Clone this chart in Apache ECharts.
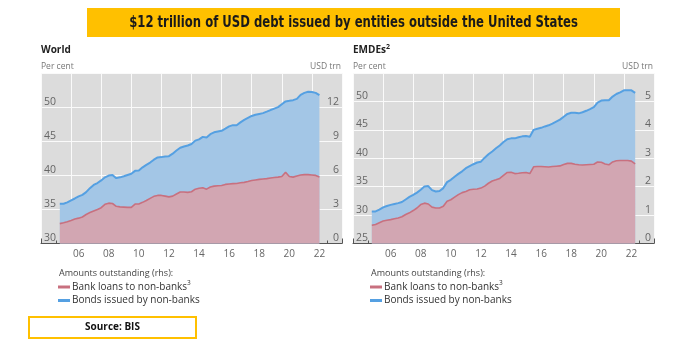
<!DOCTYPE html>
<html><head><meta charset="utf-8">
<script src="https://cdn.jsdelivr.net/npm/echarts@6/dist/echarts.min.js"></script>
<style>html,body{margin:0;padding:0;background:#fff}#c{width:684px;height:349px}</style>
</head><body><div id="c"></div>
<script>
// ---- Data (USD trn, quarterly) ----
const worldQuarterRange = ['2005Q1', '2022Q2'];
const emdeQuarterRange = ['2005Q1', '2022Q3'];

const worldLoans = [1.75,1.83,1.92,2.03, 2.15,2.23,2.33,2.55, 2.72,2.86,3.00,3.15, 3.45,3.55,3.52,3.27,
  3.22,3.20,3.18,3.18, 3.47,3.48,3.62,3.78, 3.97,4.15,4.23,4.23, 4.17,4.10,4.17,4.35,
  4.53,4.53,4.50,4.55, 4.78,4.86,4.90,4.78, 4.97,5.05,5.08,5.10, 5.20,5.24,5.27,5.28,
  5.34,5.38,5.45,5.54, 5.59,5.64,5.68,5.71, 5.76,5.80,5.84,5.90, 6.27,5.90,5.84,5.93,
  6.02,6.06,6.06,6.03, 5.99,5.85];
const worldTotal = [3.50,3.50,3.62,3.80, 3.96,4.14,4.28,4.52, 4.87,5.15,5.32,5.55, 5.82,5.98,6.03,5.75,
  5.82,5.92,6.03,6.13, 6.39,6.42,6.70,6.92, 7.12,7.37,7.57,7.60, 7.66,7.68,7.90,8.18,
  8.42,8.53,8.62,8.75, 9.05,9.16,9.38,9.33, 9.62,9.78,9.85,9.91, 10.10,10.30,10.41,10.41,
  10.66,10.87,11.05,11.22, 11.33,11.40,11.47,11.60, 11.74,11.87,12.00,12.25, 12.50,12.55,12.61,12.72,
  13.08,13.25,13.35,13.33, 13.25,13.05];

const emdeLoans = [0.64,0.67,0.73,0.79, 0.82,0.84,0.87,0.90, 0.94,1.02,1.08,1.16, 1.25,1.37,1.42,1.39,
  1.28,1.25,1.25,1.31, 1.49,1.54,1.63,1.72, 1.79,1.83,1.89,1.91, 1.92,1.95,2.02,2.12,
  2.20,2.24,2.29,2.40, 2.50,2.51,2.46,2.47, 2.49,2.50,2.46,2.70, 2.71,2.71,2.70,2.69,
  2.71,2.72,2.73,2.78, 2.82,2.82,2.79,2.77, 2.76,2.77,2.78,2.79, 2.87,2.86,2.80,2.77,
  2.87,2.91,2.92,2.92, 2.92,2.90,2.80];
const emdeTotal = [1.13,1.13,1.19,1.27, 1.32,1.36,1.39,1.42, 1.46,1.55,1.64,1.71, 1.79,1.89,2.01,2.02,
  1.88,1.83,1.85,1.95, 2.16,2.24,2.35,2.45, 2.54,2.65,2.72,2.79, 2.85,2.88,3.02,3.14,
  3.24,3.35,3.45,3.57, 3.67,3.70,3.70,3.74, 3.77,3.78,3.76,4.00, 4.04,4.07,4.12,4.16,
  4.22,4.29,4.36,4.46, 4.56,4.60,4.60,4.58, 4.62,4.67,4.73,4.80, 4.96,5.03,5.04,5.04,
  5.17,5.26,5.32,5.39, 5.39,5.39,5.30];

const yearCategories = ['2004','2005','2006','2007','2008','2009','2010','2011','2012','2013',
  '2014','2015','2016','2017','2018','2019','2020','2021','2022','2023'];
const yearLabels = ['', '', '06', '', '08', '', '10', '', '12', '', '14', '', '16', '', '18', '', '20', '', '22', ''];

const worldLeftTicks = {min: 30, max: 55, interval: 5};
const worldRightTicks = {min: 0, max: 15, interval: 3};
const emdeLeftTicks = {min: 25, max: 55, interval: 5};
const emdeRightTicks = {min: 0, max: 6, interval: 1};

const titleText = '$12 trillion of USD debt issued by entities outside the United States';
const panelTitles = ['World', 'EMDEs'];
const legendTitle = 'Amounts outstanding (rhs):';
const legendNames = ['Bank loans to non-banks', 'Bonds issued by non-banks'];
const sourceText = 'Source: BIS';

// ---- helpers ----
function quarterPositions(range) {
  const [a, b] = range;
  let y = +a.slice(0, 4), q = +a.slice(5);
  const ey = +b.slice(0, 4), eq = +b.slice(5);
  const out = [];
  while (y < ey || (y === ey && q <= eq)) {
    out.push(y + q / 4);
    q++; if (q > 4) { q = 1; y++; }
  }
  return out;
}
function pairs(xs, vs) { return vs.map((v, i) => [xs[i], v]); }

const C = {
  bg: '#dcdcdc', pinkFill: '#d2a6b2', pinkLine: '#c8707f', blueFill: '#a3c6e6', blueLine: '#55a0e2',
  axis: '#555', label: '#666', text: '#333'
};
const FONT = '"Open Sans", "Noto Sans", sans-serif';

const chart = echarts.init(document.getElementById('c'), null, {renderer: 'canvas'});

const grids = [
  {left: 41, top: 73, width: 301, height: 170.5},
  {left: 353, top: 73, width: 301, height: 170.5}
];
const panels = [
  {q: quarterPositions(worldQuarterRange), loans: worldLoans, total: worldTotal, L: worldLeftTicks, R: worldRightTicks},
  {q: quarterPositions(emdeQuarterRange), loans: emdeLoans, total: emdeTotal, L: emdeLeftTicks, R: emdeRightTicks}
];

const xAxis = [], yAxis = [], series = [];
panels.forEach((p, g) => {
  xAxis.push({
    type: 'value', gridIndex: g, position: 'bottom', min: 2004, max: 2024, interval: 2,
    axisLine: {show: true, onZero: false, lineStyle: {color: C.axis, width: 1}},
    axisTick: {show: true, inside: true, length: 5, lineStyle: {color: C.axis, width: 1}},
    minorTick: {show: true, splitNumber: 2, length: 3, lineStyle: {color: C.axis, width: 1}},
    axisLabel: {show: false},
    splitLine: {show: true, lineStyle: {color: '#fafafa', width: 1}}
  });
  xAxis.push({
    type: 'category', gridIndex: g, position: 'bottom', data: yearCategories, boundaryGap: true,
    axisLine: {show: false}, axisTick: {show: false}, splitLine: {show: false},
    axisLabel: {interval: 0, margin: 6, color: C.label, fontSize: 10, fontFamily: FONT,
      formatter: (v, i) => yearLabels[i]}
  });
  yAxis.push({
    type: 'value', gridIndex: g, position: 'left', min: p.L.min, max: p.L.max, interval: p.L.interval,
    axisLine: {show: false}, axisTick: {show: false}, splitLine: {show: false},
    axisLabel: {inside: true, margin: 3, verticalAlign: 'bottom', color: C.label, fontSize: 10.5, fontFamily: FONT,
      formatter: v => (v >= p.L.max ? '' : String(v))}
  });
  yAxis.push({
    type: 'value', gridIndex: g, position: 'right', min: p.R.min, max: p.R.max, interval: p.R.interval,
    axisLine: {show: false}, axisTick: {show: false},
    splitLine: {show: true, lineStyle: {color: '#fafafa', width: 1}},
    axisLabel: {inside: true, margin: 3, verticalAlign: 'bottom', color: C.label, fontSize: 10.5, fontFamily: FONT,
      formatter: v => (v >= p.R.max ? '' : String(v))}
  });
  series.push({
    name: legendNames[1], type: 'line', xAxisIndex: 2 * g, yAxisIndex: 2 * g + 1,
    data: pairs(p.q, p.total), showSymbol: false, symbol: 'none', silent: true, z: 2,
    lineStyle: {color: C.blueLine, width: 2}, areaStyle: {color: C.blueFill, opacity: 1}
  });
  series.push({
    name: legendNames[0], type: 'line', xAxisIndex: 2 * g, yAxisIndex: 2 * g + 1,
    data: pairs(p.q, p.loans), showSymbol: false, symbol: 'none', silent: true, z: 3,
    lineStyle: {color: C.pinkLine, width: 1.6}, areaStyle: {color: C.pinkFill, opacity: 1}
  });
});

// graphic texts
const graphic = [
  {type: 'rect', shape: {x: 87, y: 8, width: 533, height: 29}, style: {fill: '#FFC000'}},
  {type: 'text', x: 353.5, y: 22.5, scaleX: 0.81, style: {text: titleText, fill: '#1a1a1a',
    font: 'bold 16px "Liberation Sans Narrow", "DejaVu Sans Condensed", sans-serif',
    textAlign: 'center', textVerticalAlign: 'middle'}},
  {type: 'rect', shape: {x: 29, y: 317, width: 167, height: 21}, style: {fill: '#fff', stroke: '#FFC000', lineWidth: 2}},
  {type: 'text', x: 112.5, y: 327.5, style: {text: sourceText, fill: '#111', font: 'bold 10px ' + FONT,
    textAlign: 'center', textVerticalAlign: 'middle'}}
];
[41, 353].forEach((gx, g) => {
  graphic.push({type: 'text', x: gx, y: 50, style: {
    text: g === 0 ? panelTitles[0] : '{b|' + panelTitles[1] + '}{s|2}',
    rich: {b: {font: 'bold 10px ' + FONT, fill: '#222'}, s: {font: 'bold 7px ' + FONT, fill: '#222', verticalAlign: 'top', padding: [0, 0, 6, 0]}},
    fill: '#222', font: 'bold 10px ' + FONT, textVerticalAlign: 'middle'}});
  graphic.push({type: 'text', x: gx, y: 67, style: {text: 'Per cent', fill: '#777', font: '8.5px ' + FONT, textVerticalAlign: 'middle'}});
  graphic.push({type: 'text', x: gx + 300, y: 67, style: {text: 'USD trn', fill: '#777', font: '8.5px ' + FONT, textAlign: 'right', textVerticalAlign: 'middle'}});
  const lx = gx + 17;
  graphic.push({type: 'text', x: lx + 1, y: 273, style: {text: legendTitle, fill: '#444', font: '9px ' + FONT, textVerticalAlign: 'middle'}});
  graphic.push({type: 'rect', shape: {x: lx, y: 285.5, width: 12, height: 3}, style: {fill: C.pinkLine}});
  graphic.push({type: 'text', x: lx + 14, y: 287, style: {text: '{t|' + legendNames[0] + '}{s|3}',
    rich: {t: {font: '10px ' + FONT, fill: '#333'}, s: {font: '6.5px ' + FONT, fill: '#333', padding: [0, 0, 7, 0]}},
    font: '10px ' + FONT, textVerticalAlign: 'middle'}});
  graphic.push({type: 'rect', shape: {x: lx, y: 299, width: 12, height: 3}, style: {fill: C.blueLine}});
  graphic.push({type: 'text', x: lx + 14, y: 300.5, style: {text: legendNames[1], fill: '#333', font: '10px ' + FONT, textVerticalAlign: 'middle'}});
});

chart.setOption({
  animation: false,
  backgroundColor: '#fff',
  grid: grids.map(gr => Object.assign({show: true, backgroundColor: C.bg, borderWidth: 0, containLabel: false}, gr)),
  xAxis, yAxis, series, graphic
});
</script></body></html>
